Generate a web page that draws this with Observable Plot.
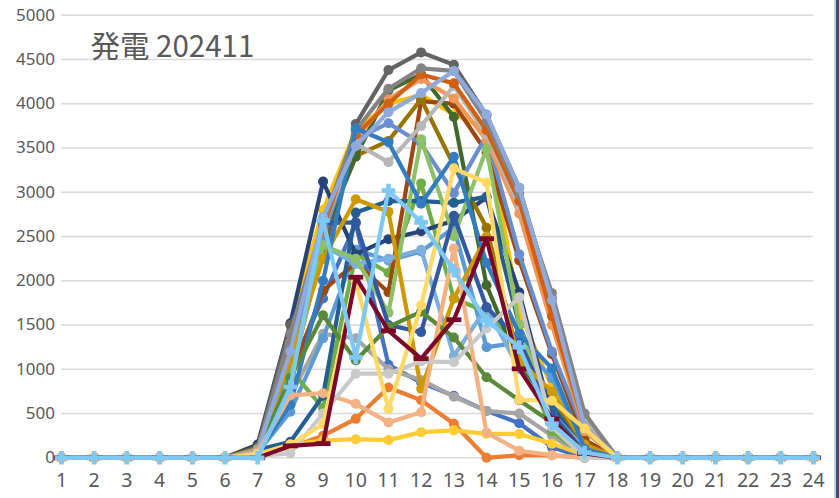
<!DOCTYPE html>
<html>
<head>
<meta charset="utf-8">
<script src="https://cdn.jsdelivr.net/npm/d3@7"></script>
<script src="https://cdn.jsdelivr.net/npm/@observablehq/plot@0.6"></script>
<style>
  html, body { margin: 0; padding: 0; background: #fff; }
  #wrap { position: relative; width: 839px; height: 498px; overflow: hidden; }
  #edge1 { position: absolute; left: 834px; top: 0; width: 2px; height: 498px; background: #cfcfcf; }
  #edge2 { position: absolute; left: 836px; top: 0; width: 3px; height: 498px; background: #2f4e8c; }
</style>
</head>
<body>
<div id="wrap"><div id="chart"></div><div id="edge1"></div><div id="edge2"></div></div>
<script>
const title = "発電 202411";
const hours = [1,2,3,4,5,6,7,8,9,10,11,12,13,14,15,16,17,18,19,20,21,22,23,24];
const yTicks = [0,500,1000,1500,2000,2500,3000,3500,4000,4500,5000];

// hourly generation, one array per day (hours 1..24)
const d01 = [0,0,0,0,0,0, 80,1000,1800,2650,1050, 850, 700, 530, 390, 120,  0, 0,0,0,0,0,0,0];
const d02 = [0,0,0,0,0,0, 30, 120, 250, 440, 795, 650, 385,   0,  30,  30,  0, 0,0,0,0,0,0,0];
const d03 = [0,0,0,0,0,0, 50, 700,1400,1350,1000, 880, 690, 530, 500, 250,  0, 0,0,0,0,0,0,0];
const d04 = [0,0,0,0,0,0,150,1500,2800,3700,4000,4100,3880,3720,1650, 800,200, 0,0,0,0,0,0,0];
const d05 = [0,0,0,0,0,0, 60, 520,1350,2350,2230,2330,2600,1250,1300, 900,150, 0,0,0,0,0,0,0];
const d06 = [0,0,0,0,0,0, 80,1000, 560,2300,2090,3100,1800,1650,1250, 300, 20, 0,0,0,0,0,0,0];
const d07 = [0,0,0,0,0,0,150,1520,3120,2300,2470,2560,2680,2940,1870, 450, 50, 0,0,0,0,0,0,0];
const d08 = [0,0,0,0,0,0, 60, 900,1890,2200,1870,4030,4000,3450,2230,1170,200, 0,0,0,0,0,0,0];
const d09 = [0,0,0,0,0,0,120,1500,2250,3770,4380,4580,4440,3870,3050,1800,450, 0,0,0,0,0,0,0];
const d10 = [0,0,0,0,0,0,100,1200,2600,3410,3580,4050,3300,2600,1100, 700,100, 0,0,0,0,0,0,0];
const d11 = [0,0,0,0,0,0, 90, 180, 700,2770,2900,2900,2880,2950,1500, 600, 60, 0,0,0,0,0,0,0];
const d12 = [0,0,0,0,0,0, 80,1100,2500,3400,4150,4330,3850,1950,1050, 450, 80, 0,0,0,0,0,0,0];
const d13 = [0,0,0,0,0,0, 70,1100,2500,3600,3780,3550,2990,3640,2300,1200,300, 0,0,0,0,0,0,0];
const d14 = [0,0,0,0,0,0, 90,1300,2650,3600,4050,4280,4060,3590,2760,1500,300, 0,0,0,0,0,0,0];
const d15 = [0,0,0,0,0,0, 80,1300,2600,3550,3340,3750,4200,3650,2850,1750,450, 0,0,0,0,0,0,0];
const d16 = [0,0,0,0,0,0, 40, 150, 195, 210, 200, 290, 310, 270, 270, 160, 30, 0,0,0,0,0,0,0];
const d17 = [0,0,0,0,0,0, 70, 900,2400,2190,2250,2350,1150,1700,1000, 500,100, 0,0,0,0,0,0,0];
const d18 = [0,0,0,0,0,0, 60, 900,2400,2250,1640,3600,2500,3490,1500, 400, 50, 0,0,0,0,0,0,0];
const d19 = [0,0,0,0,0,0, 80,1250,2650,2660,1500,1420,2735,1700,1330, 500, 60, 0,0,0,0,0,0,0];
const d20 = [0,0,0,0,0,0, 90,1300,2600,3650,4000,4330,4230,3700,2900,1600,350, 0,0,0,0,0,0,0];
const d21 = [0,0,0,0,0,0,100,1400,2650,3700,4170,4400,4370,3800,2980,1860,500, 0,0,0,0,0,0,0];
const d22 = [0,0,0,0,0,0,100,1100,2250,2920,2780, 780,1800,2500,1100, 750,150, 0,0,0,0,0,0,0];
const d23 = [0,0,0,0,0,0, 60, 600,2000,3720,3565,2870,3400,2200,1400,1010,100, 0,0,0,0,0,0,0];
const d24 = [0,0,0,0,0,0, 60, 900,1610,1100,1480,1650,1360, 910, 650, 400,  0, 0,0,0,0,0,0,0];
const d25 = [0,0,0,0,0,0, 80,1200,2720,3520,3905,4120,4370,3880,3050,1780,350, 0,0,0,0,0,0,0];
const d26 = [0,0,0,0,0,0, 60, 705, 730, 610, 400, 515,2365, 285,  80,  30,  0, 0,0,0,0,0,0,0];
const d27 = [0,0,0,0,0,0, 20,  50, 500, 950, 950,1090,1080,1460,1815, 350,  0, 0,0,0,0,0,0,0];
const d28 = [0,0,0,0,0,0, 40, 150, 380,2000, 555,1720,3270,3110, 655, 645,330, 0,0,0,0,0,0,0];
const d29 = [0,0,0,0,0,0,  0, 135, 160,2040,1435,1120,1560,2475,1005, 440, 50, 0,0,0,0,0,0,0];
const d30 = [0,0,0,0,0,0,  0, 800,2680,1135,3020,2660,2115,1550,1250, 385, 60, 0,0,0,0,0,0,0];

const days = [d01,d02,d03,d04,d05,d06,d07,d08,d09,d10,d11,d12,d13,d14,d15,
              d16,d17,d18,d19,d20,d21,d22,d23,d24,d25,d26,d27,d28,d29,d30];

// styling
const seriesColors = ["#4472C4","#ED7D31","#A5A5A5","#FFC000","#5B9BD5","#70AD47",
  "#264478","#9E480E","#636363","#997300","#255E91","#43682B",
  "#698ED0","#F1975A","#B7B7B7","#FFCD33","#7CAFDD","#8CC168",
  "#335AA1","#D26012","#848484","#CC9A00","#327DC2","#5A8A39",
  "#8FAADC","#F4B183","#C9C9C9","#FFD966","#7B0A2A","#7EC8F8"];

const dashSymbol = { draw(ctx) { const w = 7.5, h = 2.4; ctx.moveTo(-w,-h); ctx.lineTo(w,-h); ctx.lineTo(w,h); ctx.lineTo(-w,h); ctx.closePath(); } };
const plusSymbol = { draw(ctx) { const a = 6.8, t = 2.3;
  ctx.moveTo(-t,-a); ctx.lineTo(t,-a); ctx.lineTo(t,-t); ctx.lineTo(a,-t); ctx.lineTo(a,t); ctx.lineTo(t,t);
  ctx.lineTo(t,a); ctx.lineTo(-t,a); ctx.lineTo(-t,t); ctx.lineTo(-a,t); ctx.lineTo(-a,-t); ctx.lineTo(-t,-t); ctx.closePath(); } };

const marks = [
  Plot.gridY({ticks: yTicks, stroke: "#d9d9d9", strokeOpacity: 1, strokeWidth: 1.4}),
  Plot.axisY({ticks: yTicks, tickSize: 0, tickPadding: 6.5, fontSize: 17, fill: "#595959", label: null, tickFormat: d => String(d)}),
  Plot.axisX({ticks: hours, tickSize: 0, tickPadding: 15, fontSize: 19.5, fill: "#595959", label: null, tickFormat: d => String(d)})
];

days.forEach((vals, i) => {
  const rows = hours.map((h, j) => ({hour: h, value: vals[j]}));
  const color = seriesColors[i];
  const sym = i === 28 ? dashSymbol : i === 29 ? plusSymbol : "circle";
  marks.push(Plot.line(rows, {x: "hour", y: "value", stroke: color, strokeWidth: 4.2, strokeLinejoin: "round"}));
  marks.push(Plot.dot(rows, {x: "hour", y: "value", fill: color, stroke: "none", r: 5, symbol: sym}));
});

marks.push(Plot.text([title], {text: d => d, frameAnchor: "top-left", dx: 29, dy: 21, lineAnchor: "top",
  textAnchor: "start", fontSize: 29.5, fill: "#595959", fontFamily: "'Noto Sans CJK JP', 'Noto Sans', sans-serif"}));

const chart = Plot.plot({
  width: 839, height: 498,
  marginLeft: 61, marginRight: 26, marginTop: 14.7, marginBottom: 40.7,
  x: {type: "linear", domain: [1, 24]},
  y: {domain: [0, 5000]},
  style: {fontFamily: "'Noto Sans', sans-serif", background: "#fff", overflow: "visible"},
  marks
});
document.getElementById("chart").appendChild(chart);
</script>
</body>
</html>
